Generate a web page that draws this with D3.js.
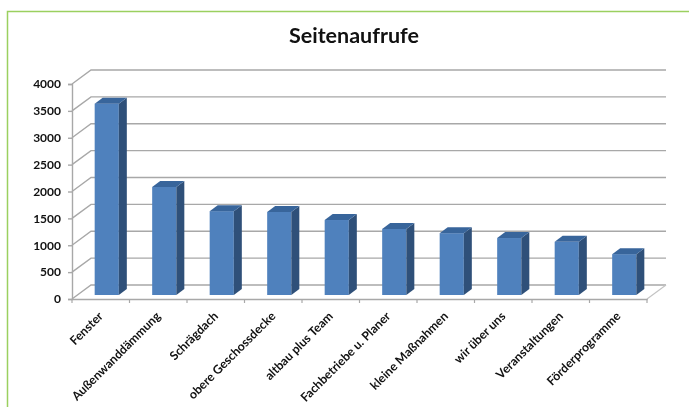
<!DOCTYPE html>
<html>
<head>
<meta charset="utf-8">
<script src="https://cdn.jsdelivr.net/npm/d3@7"></script>
<style>
  html, body { margin: 0; padding: 0; background: #fff; }
  svg { display: block; filter: blur(0.35px); }
  text { font-family: Lato, "Open Sans", sans-serif; fill: #111; }
</style>
</head>
<body>
<script>
const categories = ["Fenster", "Außenwanddämmung", "Schrägdach", "obere Geschossdecke", "altbau plus Team",
  "Fachbetriebe u. Planer", "kleine Maßnahmen", "wir über uns", "Veranstaltungen", "Förderprogramme"];
const seitenaufrufe = [3560, 2010, 1560, 1545, 1395, 1230, 1150, 1060, 990, 760];
const yTicks = [0, 500, 1000, 1500, 2000, 2500, 3000, 3500, 4000];

const width = 689;
const height = 407;

// 3d offsets: wall depth and bar depth
const depthX = 19, depthY = -14;
const barDepthX = 8, barDepthY = -6;
const barShiftX = 6, barShiftY = -4;

const x = d3.scaleBand().domain(categories).range([72, 647]).paddingInner(0.58).paddingOuter(0.29);
const xTick = d3.scaleBand().domain(categories).range([72, 647]);
const y = d3.scaleLinear().domain([0, 4000]).range([299, 84]);

const svg = d3.select("body").append("svg")
  .attr("width", width)
  .attr("height", height);

// green frame, only top and left are visible
svg.append("path")
  .attr("d", d3.line()([[7.5, height + 2], [7.5, 11.5], [width + 2, 11.5]]))
  .attr("fill", "none")
  .attr("stroke", "#9bd05f")
  .attr("stroke-width", 1.5);

svg.append("text")
  .attr("x", 354)
  .attr("y", 43)
  .attr("text-anchor", "middle")
  .style("font-size", "21.5px")
  .style("font-weight", 700)
  .text("Seitenaufrufe");

const gridColor = "#a8a8a8";

// back wall lines and the slanted left wall
svg.append("g").selectAll("polyline")
  .data(yTicks)
  .join("polyline")
    .attr("points", d => [[72, y(d)], [72 + depthX, y(d) + depthY], [647 + depthX, y(d) + depthY]].join(" "))
    .attr("fill", "none")
    .attr("stroke", gridColor)
    .attr("stroke-width", 1.4);

// right edge of the floor
svg.append("line")
  .attr("x1", 647).attr("y1", y(0))
  .attr("x2", 647 + depthX).attr("y2", y(0) + depthY)
  .attr("stroke", "#c4c4c4")
  .attr("stroke-width", 1.2);

// axes
const yAxis = d3.axisLeft(y).tickValues(yTicks).tickSize(4).tickPadding(7).tickFormat(d3.format("d"));
const gy = svg.append("g").attr("transform", "translate(72,0)").call(yAxis);
gy.selectAll("text").style("font-size", "12px").style("font-weight", 700);

const xAxis = d3.axisBottom(xTick).tickSize(0).tickPadding(0);
const gx = svg.append("g").attr("transform", `translate(0,${y(0)})`).call(xAxis);
gx.selectAll("text")
  .style("font-size", "12.2px")
  .style("font-weight", 700)
  .attr("text-anchor", "end")
  .attr("dy", null)
  .attr("x", 0)
  .attr("y", 0)
  .attr("transform", "translate(3,18) rotate(-45)");

svg.selectAll(".domain, .tick line").attr("stroke", gridColor).attr("stroke-width", 1.4);

// tick marks between the categories
svg.append("g").selectAll("line")
  .data(categories)
  .join("line")
    .attr("x1", d => xTick(d)).attr("x2", d => xTick(d))
    .attr("y1", y(0)).attr("y2", y(0) + 4)
    .attr("stroke", gridColor)
    .attr("stroke-width", 1.2);
svg.append("line")
  .attr("x1", 647).attr("x2", 647)
  .attr("y1", y(0)).attr("y2", y(0) + 4)
  .attr("stroke", gridColor)
  .attr("stroke-width", 1.2);

// bars: front, side, top
const bars = svg.append("g").selectAll("g")
  .data(categories.map((c, i) => ({ c, v: seitenaufrufe[i] })))
  .join("g")
    .attr("transform", `translate(${barShiftX},${barShiftY})`);

bars.append("rect")
  .attr("x", d => x(d.c))
  .attr("y", d => y(d.v))
  .attr("width", x.bandwidth())
  .attr("height", d => y(0) - y(d.v))
  .attr("fill", "#4f81bd");

bars.append("polygon")
  .attr("points", d => {
    const r = x(d.c) + x.bandwidth();
    return [[r, y(d.v)], [r + barDepthX, y(d.v) + barDepthY], [r + barDepthX, y(0) + barDepthY], [r, y(0)]].join(" ");
  })
  .attr("fill", "#2f5079");

bars.append("polygon")
  .attr("points", d => {
    const l = x(d.c), r = l + x.bandwidth();
    return [[l, y(d.v)], [l + barDepthX, y(d.v) + barDepthY], [r + barDepthX, y(d.v) + barDepthY], [r, y(d.v)]].join(" ");
  })
  .attr("fill", "#38659b");
</script>
</body>
</html>
